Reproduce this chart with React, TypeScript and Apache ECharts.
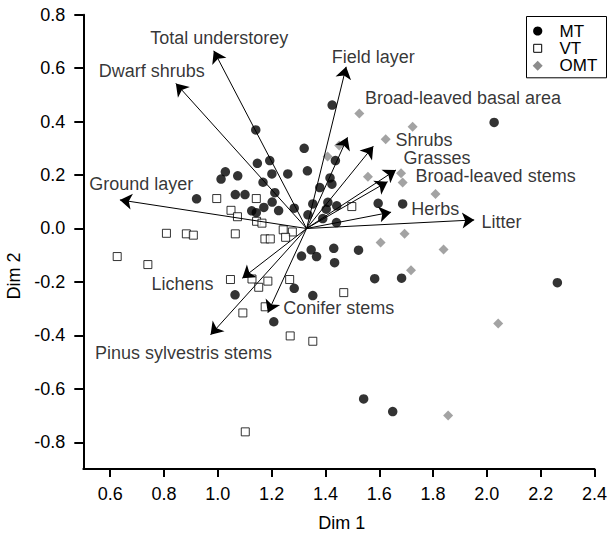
import React, { useEffect, useRef } from "react";
import * as echarts from "echarts";

// ---- data ----
const mtPoints: [number, number][] = [
  [1.425, 0.462], [1.141, 0.369], [1.321, 0.3], [2.027, 0.397], [1.437, 0.254],
  [1.147, 0.244], [1.193, 0.254], [1.333, 0.216], [1.028, 0.212], [1.012, 0.185],
  [1.074, 0.197], [1.201, 0.204], [1.26, 0.204], [1.168, 0.173], [1.417, 0.189],
  [1.424, 0.166], [1.379, 0.153], [1.212, 0.134], [1.065, 0.127], [1.101, 0.127],
  [0.921, 0.111], [1.202, 0.099], [1.171, 0.079], [1.226, 0.067], [1.126, 0.066],
  [1.143, 0.059], [1.284, 0.076], [1.353, 0.092], [1.409, 0.098], [1.403, 0.072],
  [1.442, 0.085], [1.335, 0.051], [1.39, 0.037], [1.441, 0.022], [1.596, 0.094],
  [1.687, 0.092], [1.347, -0.08], [1.431, -0.074], [1.311, -0.103], [1.367, -0.105],
  [1.523, -0.081], [1.434, -0.128], [1.583, -0.188], [1.683, -0.186], [1.284, -0.224],
  [1.353, -0.251], [1.064, -0.248], [1.208, -0.349], [2.262, -0.203], [1.542, -0.638],
  [1.65, -0.685],
];

const vtPoints: [number, number][] = [
  [0.996, 0.112], [1.143, 0.112], [1.049, 0.068], [1.073, 0.044], [1.144, 0.027],
  [1.164, 0.02], [1.243, -0.005], [1.277, -0.013], [1.252, -0.033], [0.809, -0.018],
  [0.883, -0.02], [0.909, -0.025], [1.065, -0.02], [1.175, -0.039], [1.195, -0.039],
  [0.626, -0.105], [0.74, -0.135], [1.047, -0.191], [1.127, -0.189], [1.186, -0.197],
  [1.152, -0.22], [1.267, -0.191], [1.093, -0.316], [1.176, -0.293], [1.269, -0.402],
  [1.353, -0.422], [1.102, -0.761], [1.498, 0.082], [1.468, -0.24],
];

const omtPoints: [number, number][] = [
  [1.526, 0.43], [1.724, 0.381], [1.624, 0.334], [1.451, 0.311], [1.408, 0.269],
  [1.558, 0.194], [1.681, 0.207], [1.687, 0.172], [1.809, 0.129], [1.694, -0.02],
  [1.605, -0.052], [1.839, -0.079], [1.718, -0.156], [2.042, -0.356], [1.856, -0.7],
];

const vectorOrigin: [number, number] = [1.33, 0.0];
const vectorNames = [
  "Total understorey", "Dwarf shrubs", "Ground layer", "Field layer",
  "Broad-leaved basal area", "Shrubs", "Grasses", "Broad-leaved stems",
  "Herbs", "Litter", "Lichens", "Conifer stems", "Pinus sylvestris stems",
];
const vectorX = [0.985, 0.844, 0.636, 1.477, 1.482, 1.578, 1.662, 1.631, 1.644, 1.953, 1.091, 1.186, 0.973];
const vectorY = [0.665, 0.543, 0.107, 0.605, 0.341, 0.308, 0.219, 0.175, 0.061, 0.032, -0.186, -0.315, -0.398];

const xTicks = [0.6, 0.8, 1.0, 1.2, 1.4, 1.6, 1.8, 2.0, 2.2, 2.4];
const yTicks = [-0.8, -0.6, -0.4, -0.2, 0.0, 0.2, 0.4, 0.6, 0.8];
const legendNames = ["MT", "VT", "OMT"];

// ---- layout / style (pixel offsets of vector labels from arrow tips) ----
const labelOffsets: [number, number][] = [
  [5.5, -13], [-24, -12.3], [21.3, -15.7], [27, -9.4], [115.5, -39], [50.7, -6.5],
  [41, -12], [108, -5.5], [44.1, -3], [27.2, 1.7], [-59.9, 5.7], [70.9, -4.4], [-27, 18.3],
];

const FONT = "'Liberation Sans', Arial, Helvetica, sans-serif";
const TEXT = "#000";
const GREY = "#8c8c8c";

function legendGraphic() {
  const bx = 526, by = 16, bw = 80, bh = 61.3;
  const sx = 537.7, tx = 559.5;
  const rows = [31, 48.3, 65.7];
  const els: any[] = [
    { type: "rect", shape: { x: bx + 0.5, y: by + 0.5, width: bw, height: bh }, style: { fill: "#fff", stroke: "#000", lineWidth: 1 }, z: 10 },
    { type: "circle", shape: { cx: sx, cy: rows[0], r: 4.6 }, style: { fill: "#000" }, z: 11 },
    { type: "rect", shape: { x: sx - 4, y: rows[1] - 4, width: 8, height: 8 }, style: { fill: "#fff", stroke: "#000", lineWidth: 1 }, z: 11 },
    {
      type: "polygon",
      shape: { points: [[sx, rows[2] - 5], [sx + 5, rows[2]], [sx, rows[2] + 5], [sx - 5, rows[2]]] },
      style: { fill: GREY },
      z: 11,
    },
  ];
  legendNames.forEach((n, i) => {
    els.push({
      type: "text",
      x: tx,
      y: rows[i],
      z: 11,
      style: { text: n, font: `17px ${FONT}`, fill: TEXT, align: "left", verticalAlign: "middle" },
    });
  });
  return els;
}

export default function App() {
  const ref = useRef<HTMLDivElement>(null);
  useEffect(() => {
    if (!ref.current) return;
    const chart = echarts.init(ref.current, null, { renderer: "svg" });
    const axisCommon = {
      type: "value" as const,
      axisLine: { show: true, onZero: false, lineStyle: { color: "#000", width: 2 } },
      splitLine: { show: false },
    };
    chart.setOption({
      animation: false,
      backgroundColor: "#fff",
      textStyle: { fontFamily: FONT },
      grid: { left: 83.3, top: 14.7, right: 14.3, bottom: 64, containLabel: false },
      xAxis: {
        ...axisCommon,
        min: 0.5,
        max: 2.4,
        axisTick: { show: true, length: 8, customValues: xTicks, lineStyle: { color: "#000", width: 2 } },
        axisLabel: {
          customValues: xTicks,
          margin: 16,
          fontSize: 18,
          color: TEXT,
          fontFamily: FONT,
          formatter: (v: number) => v.toFixed(1),
        },
      },
      yAxis: {
        ...axisCommon,
        min: -0.9,
        max: 0.8,
        axisTick: { show: true, length: 9, customValues: yTicks, lineStyle: { color: "#000", width: 2 } },
        axisLabel: {
          customValues: yTicks,
          margin: 18,
          fontSize: 18,
          color: TEXT,
          fontFamily: FONT,
          formatter: (v: number) => v.toFixed(1),
        },
      },
      graphic: [
        {
          type: "text",
          x: 341.7,
          y: 523.3,
          style: { text: "Dim 1", font: `18px ${FONT}`, fill: TEXT, align: "center", verticalAlign: "middle" },
        },
        {
          type: "text",
          x: 14,
          y: 276,
          rotation: Math.PI / 2,
          style: { text: "Dim 2", font: `18px ${FONT}`, fill: TEXT, align: "center", verticalAlign: "middle" },
        },
        ...legendGraphic(),
      ],
      series: [
        {
          name: "MT",
          type: "scatter",
          data: mtPoints,
          symbol: "circle",
          symbolSize: 9.5,
          itemStyle: { color: "#000" },
        },
        {
          name: "VT",
          type: "scatter",
          data: vtPoints,
          symbol: "rect",
          symbolSize: 8,
          itemStyle: { color: "#fff", borderColor: "#000", borderWidth: 1 },
        },
        {
          name: "OMT",
          type: "scatter",
          data: omtPoints,
          symbol: "diamond",
          symbolSize: 10,
          itemStyle: { color: GREY },
        },
        {
          name: "vectors",
          type: "lines",
          coordinateSystem: "cartesian2d",
          symbol: ["none", "arrow"],
          symbolSize: [6, 12],
          lineStyle: { color: "#000", width: 1, opacity: 1 },
          silent: true,
          z: 5,
          data: vectorNames.map((n, i) => ({
            name: n,
            coords: [vectorOrigin, [vectorX[i], vectorY[i]]],
          })),
        },
        {
          name: "vectorLabels",
          type: "scatter",
          symbolSize: 0,
          silent: true,
          z: 6,
          data: vectorNames.map((n, i) => ({
            value: [vectorX[i], vectorY[i]],
            label: {
              show: true,
              position: "inside",
              offset: labelOffsets[i],
              formatter: n,
              fontSize: 18,
              lineHeight: 13,
              color: TEXT,
              fontFamily: FONT,
            },
          })),
        },
      ],
    });
    return () => chart.dispose();
  }, []);
  return (
    <div
      ref={ref}
      style={{ position: "fixed", left: 0, top: 0, width: 610, height: 533, background: "#fff" }}
    />
  );
}
